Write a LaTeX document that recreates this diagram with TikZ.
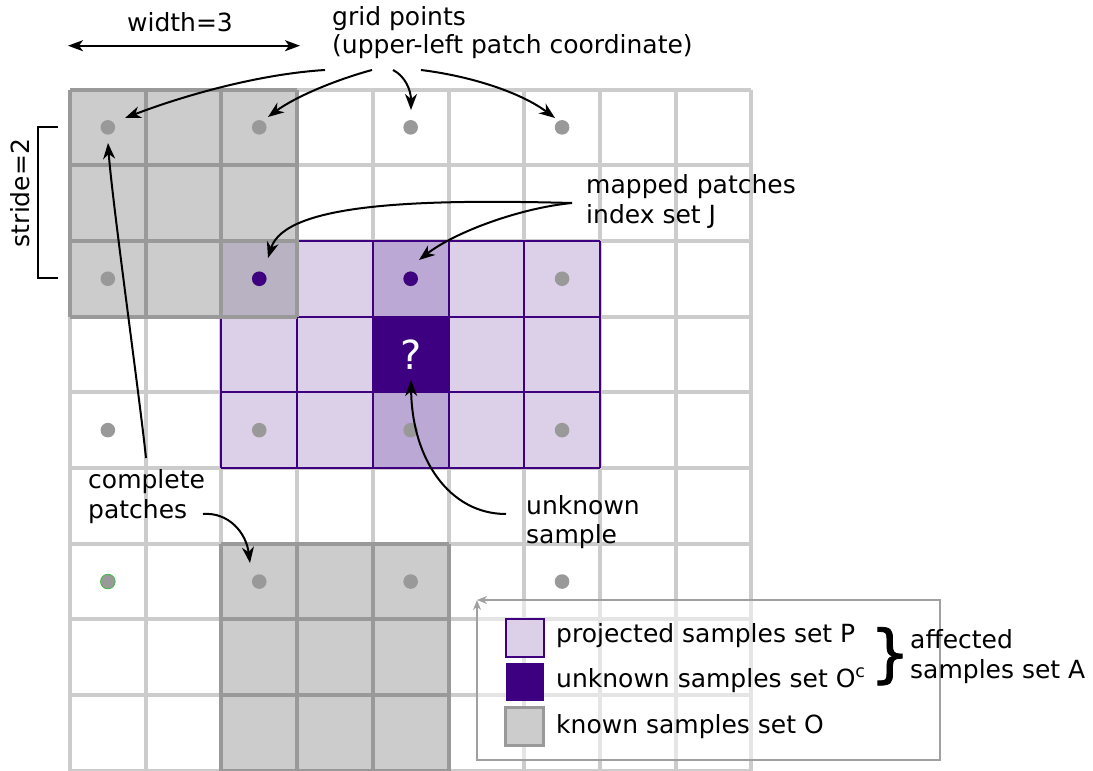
\documentclass[tikz,border=0pt]{standalone}
\usepackage{fontspec}
\setmainfont{DejaVu Sans}
\newfontfamily\bracefont[FakeBold=1.2]{DejaVu Sans}
\usetikzlibrary{arrows.meta}
\definecolor{gridgray}{HTML}{CCCCCC}
\definecolor{knownfill}{HTML}{CCCCCC}
\definecolor{knownline}{HTML}{999999}
\definecolor{dotgray}{HTML}{999999}
\definecolor{projfill}{HTML}{DCCFE8}
\definecolor{overfill}{HTML}{BCA8D4}
\definecolor{mixfill}{HTML}{B8B2C2}
\definecolor{unkfill}{HTML}{3C0080}
\definecolor{purpline}{HTML}{3F007F}
\definecolor{legline}{HTML}{A0A0A0}
\tikzset{
  gridline/.style={gridgray, line width=4pt},
  knownborder/.style={knownline, line width=4pt},
  projborder/.style={purpline, line width=2pt},
  dot/.style={circle, fill=dotgray, inner sep=0pt, minimum size=14.6pt},
  pdot/.style={dot, fill=purpline},
  label/.style={anchor=base west, inner sep=0pt, text=black},
  conn/.style={black, line width=2pt, -{Stealth[length=16pt,width=12pt,inset=5pt]}},
  swatch/.style={minimum width=38pt, minimum height=38pt, inner sep=0pt},
}
\newcommand{\cellgrid}[5]{% style, x0, y0, x1, y1
  \foreach \gx in {#2,...,#4}{\draw[#1] (\gx,#3) -- (\gx,#5);}
  \foreach \gy in {#3,...,#5}{\draw[#1] (#2,\gy) -- (#4,\gy);}
}
\begin{document}
\begin{tikzpicture}[x=1pt,y=-1pt,font=\fontsize{25}{30}\selectfont]
\useasboundingbox (0,0) rectangle (1093,771);
\fill[white] (0,0) rectangle (1093,771);
\begin{scope}[shift={(70,89.5)}, x=75.7pt, y=-75.7pt]
  % base grid
  \cellgrid{gridline}{0}{0}{9}{9}
  % known patches fill
  \fill[knownfill] (0,0) rectangle (3,3);
  \fill[knownfill] (2,6) rectangle (5,9);
  % projected samples
  \foreach \c in {2,...,6}{
    \foreach \r in {2,3,4}{
      \fill[projfill] (\c,\r) rectangle (\c+1,\r+1);
    }
  }
  \fill[overfill] (4,2) rectangle (5,3);
  \fill[overfill] (4,4) rectangle (5,5);
  \fill[unkfill] (4,3) rectangle (5,4);
  \fill[mixfill] (2,2) rectangle (3,3);
  \cellgrid{projborder}{2}{2}{7}{5}
  % known borders
  \cellgrid{knownborder}{0}{0}{3}{3}
  \cellgrid{knownborder}{2}{6}{5}{9}
  % grid points
  \foreach \i in {0,2,4,6}{
    \foreach \j in {0,2,4,6}{
      \node[dot] (d\i\j) at (\i+0.5,\j+0.5) {};
    }
  }
  \node[pdot] (p22) at (2.5,2.5) {};
  \node[pdot] (p42) at (4.5,2.5) {};
  \node[dot, draw=green!45!gray, line width=0.8pt] (g06) at (0.5,6.5) {};
  \node[text=white, inner sep=0pt, font=\fontsize{40}{44}\selectfont] (q) at (4.5,3.5) {?};
\end{scope}

% legend
\fill[white, opacity=0.5] (477,600) rectangle (940,760);
\coordinate (lgA) at (477,600);
\coordinate (lgB) at (940,600);
\coordinate (lgC) at (940,760);
\coordinate (lgD) at (477,760);
\draw[legline, line width=1.6pt, {Stealth[open,length=10pt,width=8pt]}-{Stealth[open,length=10pt,width=8pt]}]
  (lgA) -- (lgB) -- (lgC) -- (lgD) -- (lgA);
\node[swatch, fill=projfill, draw=purpline, line width=2pt] (sw1) at (524.5,637.5) {};
\node[swatch, fill=unkfill] (sw2) at (524.5,681.5) {};
\node[swatch, fill=knownfill, draw=knownline, line width=3pt] (sw3) at (524.5,726.5) {};
\node[label] (lt1) at (556,642) {projected samples set P};
\node[label] (lt2) at (556,687) {unknown samples set O\textsuperscript{c}};
\node[label] (lt3) at (556,733) {known samples set O};
\node[anchor=base, inner sep=0pt, font=\fontsize{63}{63}\bracefont] (brace) at (890,675) {\}};
\node[label] (aff1) at (910,648) {affected};
\node[label] (aff2) at (910,678) {samples set A};

% top labels
\node[anchor=base, inner sep=0pt] (twidth) at (180,31) {width=3};
\coordinate (wl) at (68,45.7);
\coordinate (wr) at (300,45.7);
\draw[black, line width=2pt, {Stealth[length=15pt,width=11pt,inset=4pt]}-{Stealth[length=15pt,width=11pt,inset=4pt]}] (wl) -- (wr);
\node[label] (tg1) at (332,25.5) {grid points};
\node[label] (tg2) at (332,53.5) {(upper-left patch coordinate)};

% stride
\node[anchor=base, inner sep=0pt, rotate=90] (tstride) at (30,193) {stride=2};
\coordinate (sb1) at (58,127);
\coordinate (sb2) at (38,127);
\coordinate (sb3) at (38,278);
\coordinate (sb4) at (58,278);
\draw[black, line width=2pt] (sb1) -- (sb2) -- (sb3) -- (sb4);

% other labels
\node[label] (tm1) at (586,193) {mapped patches};
\node[label] (tm2) at (586,223) {index set J};
\node[label] (tc1) at (88,488) {complete};
\node[label] (tc2) at (88,518) {patches};
\node[label] (tu1) at (526,514) {unknown};
\node[label] (tu2) at (526,543) {sample};

% connector coordinates
\coordinate (s1) at (325,70);   \coordinate (e1) at (125,118);
\coordinate (s2) at (372,70);   \coordinate (e2) at (268,117);
\coordinate (s3) at (393,70);   \coordinate (e3) at (411,110);
\coordinate (s4) at (421,70);   \coordinate (e4) at (555,118);
\coordinate (s5) at (572,203);  \coordinate (e5a) at (268,258);
\coordinate (e5b) at (419,260);
\coordinate (s6) at (146,458);  \coordinate (e6) at (108,143);
\coordinate (s7) at (203,514);  \coordinate (e7) at (250,563);
\coordinate (s8) at (506,514);  \coordinate (e8) at (411,380);

\draw[conn] (s1) .. controls (260,74) and (185,95) .. (e1);
\draw[conn] (s2) .. controls (335,80) and (295,97) .. (e2);
\draw[conn] (s3) .. controls (405,76) and (411,90) .. (e3);
\draw[conn] (s4) .. controls (470,76) and (520,92) .. (e4);
\draw[conn] (s5) .. controls (420,199) and (285,203) .. (e5a);
\draw[conn] (s5) .. controls (520,208) and (455,232) .. (e5b);
\draw[conn] (s6) .. controls (140,400) and (112,200) .. (e6);
\draw[conn] (s7) .. controls (228,512) and (246,532) .. (e7);
\draw[conn] (s8) .. controls (450,514) and (412,460) .. (e8);
\end{tikzpicture}
\end{document}
